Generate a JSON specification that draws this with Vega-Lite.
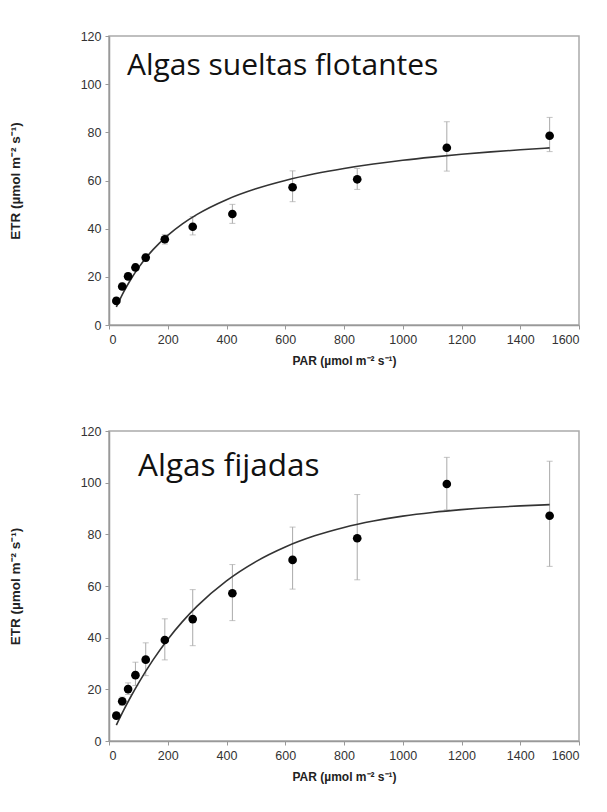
{
  "$schema": "https://vega.github.io/schema/vega-lite/v6.json",
  "padding": {"left": 7, "top": 29, "right": 5, "bottom": 5},
  "background": "white",
  "spacing": 56,
  "config": {
    "view": {"stroke": "#aaaaaa", "strokeWidth": 1.5},
    "axis": {
      "labelFont": "Liberation Sans Narrow, Liberation Sans, Arial, sans-serif",
      "labelFontSize": 12.5,
      "labelColor": "#333333",
      "domainColor": "#999999",
      "domainWidth": 1.5,
      "tickColor": "#999999",
      "tickSize": 4,
      "grid": false,
      "format": "d",
      "titleFont": "Liberation Sans Narrow, Liberation Sans, Arial, sans-serif",
      "titleFontWeight": "bold",
      "titleColor": "#222222"
    },
    "axisX": {"titleFontSize": 12},
    "axisY": {"titleFontSize": 13.5}
  },
  "datasets": {
    "pts_top": [
      {"par": 25, "etr": 10.0, "lo": 9.0, "hi": 11.2},
      {"par": 45, "etr": 16.0, "lo": 14.8, "hi": 17.4},
      {"par": 65, "etr": 20.2, "lo": 19.0, "hi": 21.6},
      {"par": 90, "etr": 23.9, "lo": 22.6, "hi": 25.3},
      {"par": 125, "etr": 28.0, "lo": 26.6, "hi": 29.5},
      {"par": 190, "etr": 35.6, "lo": 33.6, "hi": 37.6},
      {"par": 285, "etr": 40.8, "lo": 37.4, "hi": 45.0},
      {"par": 420, "etr": 46.1, "lo": 42.2, "hi": 50.1},
      {"par": 625, "etr": 57.2, "lo": 51.2, "hi": 64.0},
      {"par": 845, "etr": 60.5, "lo": 56.3, "hi": 65.0},
      {"par": 1150, "etr": 73.6, "lo": 63.9, "hi": 84.4},
      {"par": 1500, "etr": 78.6, "lo": 72.0, "hi": 86.2}
    ],
    "fit_top": [
      {"par": 25, "etr": 7.46},
      {"par": 50, "etr": 13.74},
      {"par": 75, "etr": 19.10},
      {"par": 100, "etr": 23.72},
      {"par": 150, "etr": 31.29},
      {"par": 200, "etr": 37.23},
      {"par": 250, "etr": 42.01},
      {"par": 300, "etr": 45.95},
      {"par": 400, "etr": 52.05},
      {"par": 500, "etr": 56.56},
      {"par": 600, "etr": 60.02},
      {"par": 700, "etr": 62.77},
      {"par": 800, "etr": 64.99},
      {"par": 900, "etr": 66.84},
      {"par": 1000, "etr": 68.40},
      {"par": 1100, "etr": 69.72},
      {"par": 1200, "etr": 70.87},
      {"par": 1300, "etr": 71.87},
      {"par": 1400, "etr": 72.75},
      {"par": 1500, "etr": 73.53}
    ],
    "pts_bot": [
      {"par": 25, "etr": 9.8, "lo": 8.6, "hi": 11.0},
      {"par": 45, "etr": 15.4, "lo": 13.8, "hi": 17.0},
      {"par": 65, "etr": 20.1, "lo": 18.0, "hi": 22.5},
      {"par": 90, "etr": 25.5, "lo": 21.5, "hi": 30.5},
      {"par": 125, "etr": 31.5, "lo": 25.3, "hi": 38.0},
      {"par": 190, "etr": 39.1, "lo": 31.4, "hi": 47.3},
      {"par": 285, "etr": 47.2, "lo": 36.9, "hi": 58.6},
      {"par": 420, "etr": 57.2, "lo": 46.6, "hi": 68.3},
      {"par": 625, "etr": 70.1, "lo": 58.8, "hi": 82.8},
      {"par": 845, "etr": 78.5, "lo": 62.4, "hi": 95.4},
      {"par": 1150, "etr": 99.5, "lo": 89.5, "hi": 109.8},
      {"par": 1500, "etr": 87.2, "lo": 67.6, "hi": 108.3}
    ],
    "fit_bot": [
      {"par": 25, "etr": 6.18},
      {"par": 50, "etr": 11.94},
      {"par": 75, "etr": 17.32},
      {"par": 100, "etr": 22.34},
      {"par": 150, "etr": 31.41},
      {"par": 200, "etr": 39.31},
      {"par": 250, "etr": 46.20},
      {"par": 300, "etr": 52.21},
      {"par": 400, "etr": 62.01},
      {"par": 500, "etr": 69.45},
      {"par": 600, "etr": 75.11},
      {"par": 700, "etr": 79.41},
      {"par": 800, "etr": 82.67},
      {"par": 900, "etr": 85.15},
      {"par": 1000, "etr": 87.04},
      {"par": 1100, "etr": 88.47},
      {"par": 1200, "etr": 89.56},
      {"par": 1300, "etr": 90.39},
      {"par": 1400, "etr": 91.01},
      {"par": 1500, "etr": 91.49}
    ],
    "label_top": [{"par": 61, "etr": 103.8, "label": "Algas sueltas flotantes"}],
    "label_bot": [{"par": 99, "etr": 102.6, "label": "Algas fijadas"}]
  },
  "vconcat": [
    {
      "width": 470,
      "height": 289,
      "encoding": {
        "x": {"field": "par", "type": "quantitative", "scale": {"domain": [0, 1600], "nice": false},
              "axis": {"values": [0,200,400,600,800,1000,1200,1400,1600], "title": "PAR (µmol m⁻² s⁻¹)", "titlePadding": 10, "labelPadding": 4}},
        "y": {"field": "etr", "type": "quantitative", "scale": {"domain": [0, 120], "nice": false},
              "axis": {"values": [0,20,40,60,80,100,120], "title": "ETR (µmol m⁻² s⁻¹)", "titlePadding": 58, "labelPadding": 4}}
      },
      "layer": [
        {"data": {"name": "pts_top"}, "mark": {"type": "errorbar", "ticks": {"size": 6, "color": "#aaaaaa"}, "color": "#aaaaaa", "thickness": 1},
         "encoding": {"y": {"field": "lo", "type": "quantitative"}, "y2": {"field": "hi"}}},
        {"data": {"name": "fit_top"}, "mark": {"type": "line", "color": "#333333", "strokeWidth": 1.6, "interpolate": "monotone"}},
        {"data": {"name": "pts_top"}, "mark": {"type": "point", "filled": true, "color": "#000000", "opacity": 1, "size": 75}},
        {"data": {"name": "label_top"}, "mark": {"type": "text", "align": "left", "baseline": "alphabetic", "font": "Open Sans", "fontSize": 30, "color": "#111111"},
         "encoding": {"text": {"field": "label"}}}
      ]
    },
    {
      "width": 470,
      "height": 310,
      "encoding": {
        "x": {"field": "par", "type": "quantitative", "scale": {"domain": [0, 1600], "nice": false},
              "axis": {"values": [0,200,400,600,800,1000,1200,1400,1600], "title": "PAR (µmol m⁻² s⁻¹)", "titlePadding": 10, "labelPadding": 4}},
        "y": {"field": "etr", "type": "quantitative", "scale": {"domain": [0, 120], "nice": false},
              "axis": {"values": [0,20,40,60,80,100,120], "title": "ETR (µmol m⁻² s⁻¹)", "titlePadding": 58, "labelPadding": 4}}
      },
      "layer": [
        {"data": {"name": "pts_bot"}, "mark": {"type": "errorbar", "ticks": {"size": 6, "color": "#aaaaaa"}, "color": "#aaaaaa", "thickness": 1},
         "encoding": {"y": {"field": "lo", "type": "quantitative"}, "y2": {"field": "hi"}}},
        {"data": {"name": "fit_bot"}, "mark": {"type": "line", "color": "#333333", "strokeWidth": 1.6, "interpolate": "monotone"}},
        {"data": {"name": "pts_bot"}, "mark": {"type": "point", "filled": true, "color": "#000000", "opacity": 1, "size": 75}},
        {"data": {"name": "label_bot"}, "mark": {"type": "text", "align": "left", "baseline": "alphabetic", "font": "Open Sans", "fontSize": 31.5, "color": "#111111"},
         "encoding": {"text": {"field": "label"}}}
      ]
    }
  ]
}
